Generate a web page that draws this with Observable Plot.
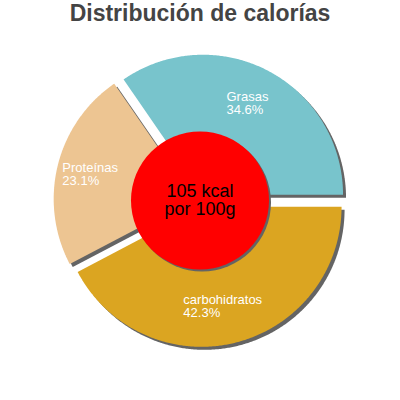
<!DOCTYPE html>
<html><head><meta charset="utf-8">
<script src="https://cdn.jsdelivr.net/npm/d3@7"></script>
<script src="https://cdn.jsdelivr.net/npm/@observablehq/plot@0.6"></script>
<style>
body{margin:0;background:#fff;}
#title{height:34px;line-height:34px;text-align:center;font:bold 23px Arial,"Liberation Sans",sans-serif;color:#444;white-space:nowrap;}
#chart svg{display:block;}
</style></head><body>
<div id="title">Distribución de calorías</div>
<div id="chart"></div>
<script>
const categories = ["carbohidratos", "Proteínas", "Grasas"];
const percents = [42.3, 23.1, 34.6];
const sliceColors = ["#dba521", "#edc592", "#78c4cc"];
const energyKcal = 105;
const centerLabel = energyKcal + " kcal\npor 100g";

const FONT = "Arial, 'Liberation Sans', sans-serif";
const W = 400, H = 366, R = 140, cx = 199.5, cy = 166;
const explode = 6.5 / R, hole = 69 / R, labelR = 103 / R;

const total = d3.sum(percents);
let acc = 0;
const slices = categories.map((name, i) => {
  const a0 = acc / total * 2 * Math.PI;
  acc += percents[i];
  const a1 = acc / total * 2 * Math.PI;
  const mid = (a0 + a1) / 2;
  return {name, value: percents[i], color: sliceColors[i], a0, a1, mid,
    ox: explode * Math.cos(mid), oy: -explode * Math.sin(mid)};
});

const pts = [];
for (const s of slices) {
  pts.push({key: s.name, color: s.color, x: s.ox, y: s.oy});
  const n = Math.ceil((s.a1 - s.a0) / (Math.PI / 360));
  for (let k = 0; k <= n; k++) {
    const t = s.a0 + (s.a1 - s.a0) * k / n;
    pts.push({key: s.name, color: s.color, x: s.ox + Math.cos(t), y: s.oy - Math.sin(t)});
  }
}

const ctx = document.createElement("canvas").getContext("2d");
ctx.font = "13px " + FONT;
const labelData = slices.map(s => {
  const lines = [s.name, s.value.toFixed(1) + "%"];
  const w = d3.max(lines, l => ctx.measureText(l).width);
  return {
    text: lines.join("\n"),
    x: s.ox + labelR * Math.cos(s.mid) - (w / 2 + 3.5) / R,
    y: s.oy - labelR * Math.sin(s.mid)
  };
});

const chart = Plot.plot({
  width: W, height: H, margin: 0,
  style: {fontFamily: FONT, background: "white"},
  x: {domain: [-1, 1], range: [cx - R, cx + R], axis: null},
  y: {domain: [-1, 1], range: [cy + R, cy - R], axis: null},
  color: {type: "identity"},
  marks: [
    Plot.line(pts, {x: "x", y: "y", z: "key", fill: "#646464", stroke: "none", curve: "linear-closed", dx: 3, dy: 3}),
    Plot.line(pts, {x: "x", y: "y", z: "key", fill: "color", stroke: "none", curve: "linear-closed"}),
    Plot.dot([{x: 0, y: 0}], {x: "x", y: "y", r: hole * R, fill: "#646464", stroke: "none", dx: 2, dy: 2}),
    Plot.dot([{x: 0, y: 0}], {x: "x", y: "y", r: hole * R, fill: "#ff0000", stroke: "none"}),
    Plot.text(labelData, {x: "x", y: "y", text: "text", textAnchor: "start", lineAnchor: "middle", fill: "white", fontSize: 13, lineHeight: 1.0, fontFamily: FONT}),
    Plot.text([{x: 0, y: 0, t: centerLabel}], {x: "x", y: "y", text: "t", fill: "black", fontSize: 18, lineHeight: 1.0, lineAnchor: "middle", fontFamily: FONT})
  ]
});
document.getElementById("chart").appendChild(chart);
</script>
</body></html>
